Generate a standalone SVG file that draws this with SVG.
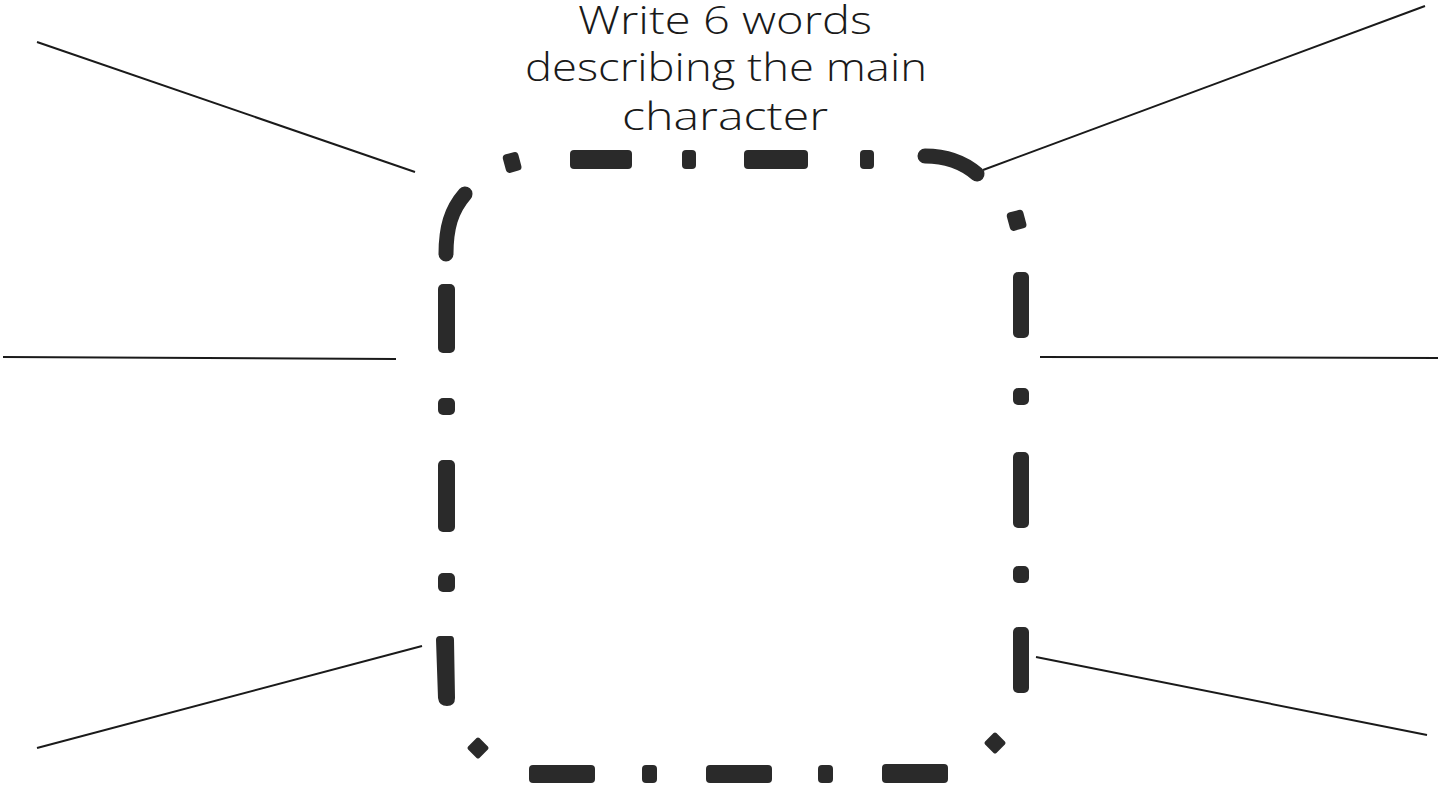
<svg xmlns="http://www.w3.org/2000/svg" width="1453" height="793" viewBox="0 0 1453 793">
<style>
.t{font-family:"Open Sans","Liberation Sans",sans-serif;font-weight:300;font-size:38px;fill:#1a1a1a;text-anchor:middle}
.ln{stroke:#1a1a1a;stroke-width:2;fill:none}
.d{fill:#2a2a2a}
.arc{stroke:#2a2a2a;stroke-width:15;fill:none;stroke-linecap:round}
</style>
<rect width="1453" height="793" fill="#fff"/>
<g id="title">
<text class="t" x="725" y="34" font-size="36" textLength="294" lengthAdjust="spacingAndGlyphs">Write 6 words</text>
<text class="t" x="726" y="81" textLength="402" lengthAdjust="spacingAndGlyphs">describing the main</text>
<text class="t" x="725" y="130" textLength="206" lengthAdjust="spacingAndGlyphs">character</text>
</g>
<g id="connectors">
<line class="ln" x1="37" y1="42" x2="415" y2="172"/>
<line class="ln" x1="983" y1="170" x2="1425" y2="6"/>
<line class="ln" x1="3" y1="357" x2="396" y2="359"/>
<line class="ln" x1="1040" y1="357" x2="1438" y2="358"/>
<line class="ln" x1="37" y1="748" x2="422" y2="646"/>
<line class="ln" x1="1036" y1="657" x2="1427" y2="735"/>
</g>
<g id="box">
<rect class="d" x="504" y="153" width="16" height="19" rx="4" transform="rotate(-15 512 162)"/>
<rect class="d" x="570" y="150" width="62" height="19" rx="4"/>
<rect class="d" x="682" y="150" width="14" height="19" rx="4"/>
<rect class="d" x="744" y="150" width="64" height="19" rx="4"/>
<rect class="d" x="860" y="150" width="14" height="19" rx="4"/>
<path class="arc" d="M925,156 C945,156 963,162 977,174"/>
<rect class="d" x="1008" y="211" width="17" height="19" rx="4" transform="rotate(-15 1016 220)"/>
<rect class="d" x="1013" y="272" width="16" height="66" rx="5"/>
<rect class="d" x="1013" y="388" width="16" height="17" rx="5"/>
<rect class="d" x="1013" y="452" width="16" height="76" rx="5"/>
<rect class="d" x="1013" y="566" width="16" height="17" rx="5"/>
<rect class="d" x="1013" y="627" width="16" height="66" rx="5"/>
<rect class="d" x="987" y="735" width="16" height="16" rx="2" transform="rotate(45 995 743)"/>
<rect class="d" x="882" y="764" width="66" height="19" rx="4"/>
<rect class="d" x="818" y="765" width="15" height="18" rx="4"/>
<rect class="d" x="706" y="765" width="66" height="18" rx="4"/>
<rect class="d" x="642" y="765" width="15" height="18" rx="4"/>
<rect class="d" x="529" y="765" width="66" height="18" rx="4"/>
<rect class="d" x="470" y="740" width="16" height="16" rx="2" transform="rotate(45 478 748)"/>
<path class="d" d="M436,640 Q436,636 440,636 L451,636 Q454,636 454,640 L455,698 Q455,706 447,706 Q439,706 438,698 Z"/>
<rect class="d" x="438" y="573" width="17" height="19" rx="5"/>
<rect class="d" x="438" y="460" width="17" height="72" rx="5"/>
<rect class="d" x="438" y="398" width="17" height="17" rx="5"/>
<rect class="d" x="438" y="284" width="17" height="69" rx="5"/>
<path class="arc" d="M446,254 C446,228 451,210 465,194"/>
</g>
</svg>
